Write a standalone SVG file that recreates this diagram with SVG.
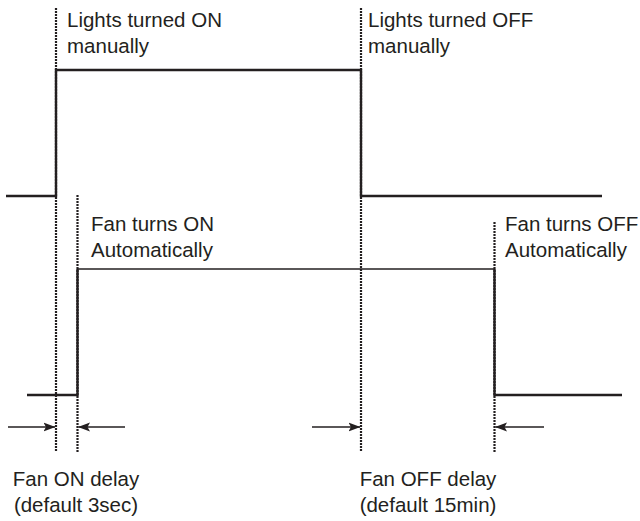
<svg xmlns="http://www.w3.org/2000/svg" width="640" height="521" viewBox="0 0 640 521">
<style>
text{font-family:"Liberation Sans",Arial,sans-serif;font-size:20.5px;fill:#231f20}
.sig{fill:none;stroke:#231f20;stroke-width:2.4;stroke-linejoin:miter}
.thin{fill:none;stroke:#231f20;stroke-width:1.5}
.dot{stroke:#231f20;stroke-width:2.2;stroke-dasharray:2 1;fill:none}
.arr{stroke:#231f20;stroke-width:1.5;fill:none;marker-end:url(#ah)}
.mid{text-anchor:middle}
</style>
<defs>
<marker id="ah" viewBox="0 0 12 10" refX="11.5" refY="5" markerWidth="12" markerHeight="10" markerUnits="userSpaceOnUse" orient="auto">
<path d="M0,0.5 L12,5 L0,9.5 L2.5,5 Z" fill="#231f20"/>
</marker>
</defs>
<g id="guides">
<line class="dot" x1="56" y1="8" x2="56" y2="452"/>
<line class="dot" x1="77.5" y1="195" x2="77.5" y2="452"/>
<line class="dot" x1="361" y1="8" x2="361" y2="452"/>
<line class="dot" x1="494.5" y1="222" x2="494.5" y2="452"/>
</g>
<g id="lights-signal">
<polyline class="sig" points="6,196 56,196 56,70 361,70 361,196 602,196"/>
</g>
<g id="fan-signal">
<polyline class="sig" points="27,395 77.5,395 77.5,269"/>
<line class="thin" x1="77.5" y1="269" x2="494.5" y2="269"/>
<polyline class="sig" points="494.5,269 494.5,395 622,395"/>
</g>
<g id="connectors">
<line class="arr" x1="8" y1="427" x2="55" y2="427"/>
<line class="arr" x1="125" y1="427" x2="78.5" y2="427"/>
<line class="arr" x1="312" y1="427" x2="360" y2="427"/>
<line class="arr" x1="544" y1="427" x2="495.5" y2="427"/>
</g>
<g id="label-lights-on"><text x="67" y="27">Lights turned ON</text><text x="67" y="53">manually</text></g>
<g id="label-lights-off"><text x="368" y="27">Lights turned OFF</text><text x="368" y="53">manually</text></g>
<g id="label-fan-on"><text x="91" y="231">Fan turns ON</text><text x="91" y="257">Automatically</text></g>
<g id="label-fan-off"><text x="505" y="231">Fan turns OFF</text><text x="505" y="257">Automatically</text></g>
<g id="label-on-delay"><text class="mid" x="76" y="486">Fan ON delay</text><text class="mid" x="76" y="512">(default 3sec)</text></g>
<g id="label-off-delay"><text class="mid" x="428" y="486">Fan OFF delay</text><text class="mid" x="428" y="512">(default 15min)</text></g>
</svg>
